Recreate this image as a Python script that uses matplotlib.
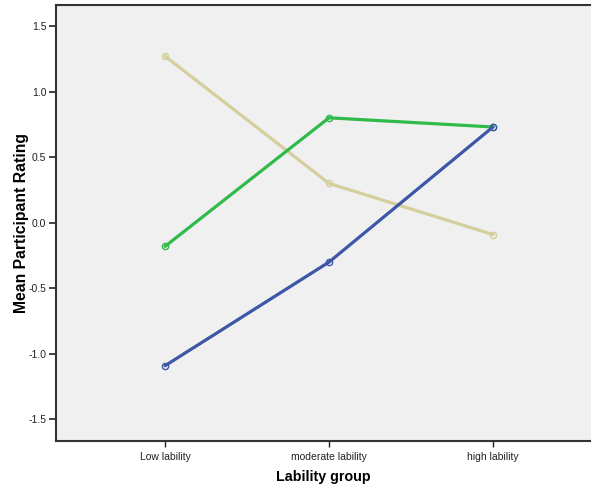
import matplotlib.pyplot as plt

plt.rcParams['font.family'] = ['Liberation Sans', 'DejaVu Sans']

groups = ['Low lability', 'moderate lability', 'high lability']
tan_vals = [1.27, 0.30, -0.09]
green_vals = [-0.18, 0.80, 0.73]
blue_vals = [-1.09, -0.30, 0.73]
y_ticks = [-1.5, -1.0, -0.5, 0.0, 0.5, 1.0, 1.5]

fig = plt.figure(figsize=(5.91, 4.86), dpi=100)
ax = fig.add_axes([0.0948, 0.0926, 0.9052, 0.8971])
ax.set_facecolor('#f0f0f0')

x = range(len(groups))
series = [(tan_vals, '#d4cf9c'), (green_vals, '#2fba4a'), (blue_vals, '#3c56a8')]
for vals, col in series:
    ax.plot(x, vals, color=col, lw=2.3, marker='o', ms=4.5,
            mfc='none', mec=col, mew=1.0, solid_capstyle='round')

ax.set_xlim(-0.665, 2.598)
ax.set_ylim(-1.664, 1.66)
ax.set_xticks(list(x))
ax.set_xticklabels(groups)
ax.set_yticks(y_ticks)
ax.set_yticklabels([f'{v:.1f}' for v in y_ticks])
ax.tick_params(axis='both', labelsize=7.5, colors='#222222', length=5, width=1.2,
               direction='out', pad=2)
ax.tick_params(axis='x', length=4, width=1.0, pad=4)

for side in ['left', 'bottom', 'top']:
    ax.spines[side].set_color('#333333')
    ax.spines[side].set_linewidth(1.5)
ax.spines['right'].set_visible(False)

ax.set_xlabel('Lability group', fontsize=10.3, fontweight='bold', labelpad=6)
ax.set_ylabel('Mean Participant Rating', fontsize=11.3, fontweight='bold')
ax.yaxis.set_label_coords(-0.051, 0.5)

plt.savefig('out.png', dpi=100)
